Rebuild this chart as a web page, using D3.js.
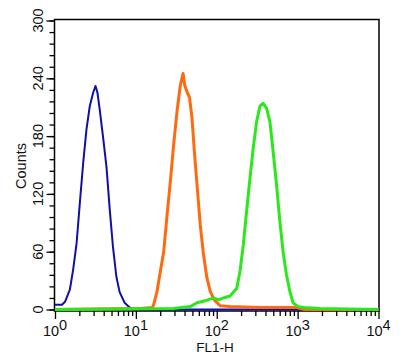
<!DOCTYPE html>
<html>
<head>
<meta charset="utf-8">
<script src="https://cdn.jsdelivr.net/npm/d3@7"></script>
<style>
body{margin:0;background:#fff;}
svg{display:block;font-family:"Liberation Sans",Arial,Helvetica,sans-serif;}
</style>
</head>
<body>
<div class="chart"></div>
<script>
// FL1-H channel values and counts
var blueX=[1,1.22,1.33,1.53,1.68,1.85,2.03,2.23,2.45,2.69,2.96,3.17,3.35,3.58,3.93,4.33,4.75,5.21,5.74,6.3,7.26,8.37,9.9,10000]
var blueCounts=[5,5,8,21,42,69,111,152,187,211,225,232,225,207,179,148,104,65,34,18,7,2,0,0]

var orangeX=[1,11.4,15.9,16.6,18.3,20.1,22.1,24.3,26.7,29.3,32.3,35.5,38.3,40.1,42,46.1,49.4,53.2,57.9,62.5,68.6,75.5,83,92.9,110,146,342,975,1222,10000]
var orangeCounts=[0,1,2,5,19,40,60,98,133,171,206,233,245,233,228,220,199,161,123,88,57,33,19,10,4,3,2,2,0,0]

var greenX=[1,29,47.1,56.9,71.9,91.1,105,121,146,177,194,213,234,258,283,311,342,375,413,454,498,548,602,661,728,800,878,1012,1222,1871,10000]
var greenCounts=[0,1,3,7,9,12,10,12,14,22,40,67,102,137,168,195,211,214,209,195,164,130,92,60,36,19,7,3,2,1,0]

var xMajor=[1,10,100,1000,10000]
var xExponents=["0","1","2","3","4"]
var yMajor=[0,60,120,180,240,300]

var drawChart=function(){
  var screen={width:405,height:363};
  var box={left:54.5,right:379,top:19.5,bottom:311};

  var svg=d3.select(".chart").append("svg")
      .attr('width', screen.width)
      .attr('height', screen.height)

  var x=d3.scaleLog()
      .domain([1,10000])
      .range([55,378.5]);
  var y=d3.scaleLinear()
      .domain([0,300])
      .range([309.5,20.5]);

  svg.append("clipPath").attr('id','plotclip')
    .append('rect')
      .attr('x', box.left)
      .attr('y', box.top)
      .attr('width', box.right-box.left)
      .attr('height', box.bottom-box.top+1)

  // box
  svg.append('rect')
      .attr('x', box.left)
      .attr('y', box.top)
      .attr('width', box.right-box.left)
      .attr('height', box.bottom-box.top)
      .style('fill', 'none')
      .style('stroke', '#000')
      .attr('stroke-width', 1.5)

  // x ticks
  var xMinor=[]
  for(var d=1;d<10000;d*=10){
    for(var k=2;k<10;k++){
      xMinor.push(d*k)
    }
  }
  var xMinorAxis=svg.append("g")
      .attr('transform','translate(0,'+box.bottom+')')
      .call(d3.axisBottom(x).tickValues(xMinor).tickSize(5).tickFormat(""))
  var xMajorAxis=svg.append("g")
      .attr('transform','translate(0,'+box.bottom+')')
      .call(d3.axisBottom(x).tickValues(xMajor).tickSize(8).tickFormat(""))

  // y ticks
  var yMinorAxis=svg.append("g")
      .attr('transform','translate('+box.left+',0)')
      .call(d3.axisLeft(y).tickValues(d3.range(0,301,12)).tickSize(5).tickFormat(""))
  var yMajorAxis=svg.append("g")
      .attr('transform','translate('+box.left+',0)')
      .call(d3.axisLeft(y).tickValues(yMajor).tickSize(8).tickFormat(""))

  svg.selectAll(".domain").remove()
  svg.selectAll(".tick line").attr('stroke-width', 1.3).style('stroke','#000')

  // x labels
  var xLabels=svg.append("g").selectAll("text")
      .data(xMajor)
      .enter().append("text")
      .attr('x', function(d){ return x(d) })
      .attr('y', 335.5)
      .attr('text-anchor','middle')
      .style('font-size','14.5px')
      .style('fill','#111')
  xLabels.append("tspan").text("10")
  xLabels.append("tspan")
      .attr('dy', -6)
      .text(function(d,i){ return xExponents[i] })

  svg.append("text")
      .attr('x', 215)
      .attr('y', 351.5)
      .attr('text-anchor','middle')
      .style('font-size','13.5px')
      .style('fill','#111')
      .text("FL1-H")

  // y labels
  svg.append("g").selectAll("text")
      .data(yMajor)
      .enter().append("text")
      .attr('transform', function(d){
        return 'translate(43,'+y(d)+') rotate(-90)'
      })
      .attr('text-anchor','middle')
      .style('font-size','14.5px')
      .style('fill','#111')
      .text(function(d){ return d })

  svg.append("text")
      .attr('transform','translate(26,166) rotate(-90)')
      .attr('text-anchor','middle')
      .style('font-size','14.5px')
      .style('fill','#111')
      .text("Counts")

  // histograms
  var plot=svg.append("g").attr('clip-path','url(#plotclip)')
  var drawHist=function(xs,counts,color,width){
    var pts=[]
    for(var i=0;i<xs.length;i++){
      pts.push([xs[i],counts[i]])
    }
    var line=d3.line()
        .x(function(p){ return x(p[0]) })
        .y(function(p){ return y(p[1]) })
    plot.append('path')
        .attr('d', line(pts))
        .style('fill','none')
        .style('stroke', color)
        .attr('stroke-width', width)
        .attr('stroke-linejoin','round')
  }
  drawHist(blueX,blueCounts,'#1010a8',2)
  drawHist(orangeX,orangeCounts,'#ff6a10',3)
  drawHist(greenX,greenCounts,'#2ae81c',3)
}

drawChart()
</script>
</body>
</html>
